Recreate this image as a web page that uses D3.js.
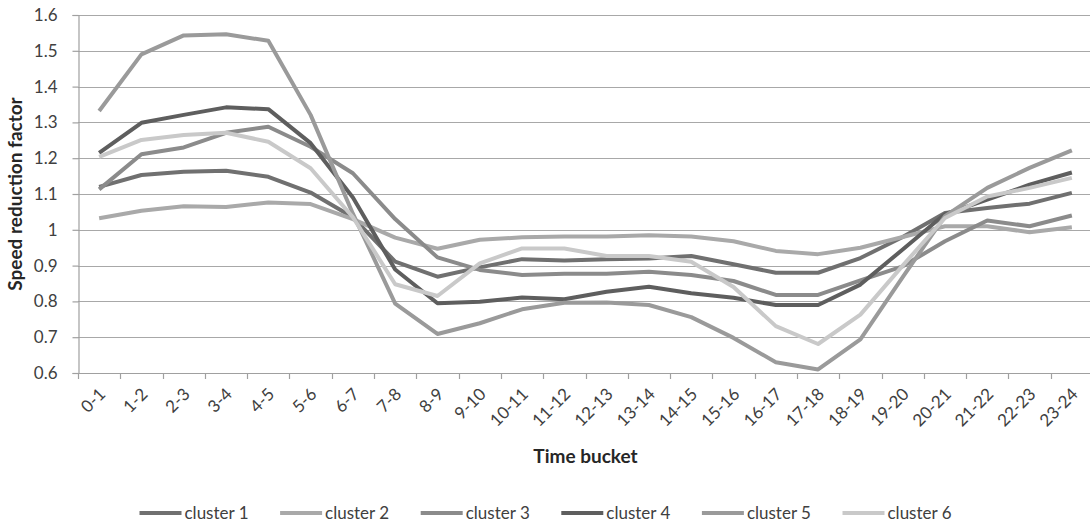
<!DOCTYPE html>
<html>
<head>
<meta charset="utf-8">
<script src="https://cdn.jsdelivr.net/npm/d3@7"></script>
<style>
  html, body { margin: 0; padding: 0; background: #fff; }
  svg { display: block; }
  text { font-family: Lato, "Open Sans", sans-serif; }
</style>
</head>
<body>
<svg id="chart" width="1090" height="524"></svg>
<script>
const categories = ["0-1","1-2","2-3","3-4","4-5","5-6","6-7","7-8","8-9","9-10","10-11","11-12",
  "12-13","13-14","14-15","15-16","16-17","17-18","18-19","19-20","20-21","21-22","22-23","23-24"];

const seriesNames = ["cluster 1","cluster 2","cluster 3","cluster 4","cluster 5","cluster 6"];

const cluster1 = [1.120,1.153,1.162,1.165,1.148,1.104,1.035,0.911,0.869,0.895,0.918,0.914,
                  0.918,0.920,0.927,0.904,0.880,0.880,0.921,0.980,1.047,1.061,1.073,1.103];
const cluster2 = [1.032,1.053,1.066,1.064,1.076,1.072,1.030,0.978,0.947,0.972,0.979,0.981,
                  0.981,0.985,0.981,0.968,0.941,0.932,0.950,0.980,1.010,1.010,0.993,1.007];
const cluster3 = [1.113,1.211,1.230,1.271,1.288,1.232,1.158,1.030,0.923,0.888,0.874,0.877,
                  0.877,0.883,0.874,0.857,0.818,0.818,0.859,0.898,0.968,1.026,1.010,1.040];
const cluster4 = [1.215,1.299,1.321,1.342,1.337,1.242,1.090,0.889,0.795,0.799,0.811,0.806,
                  0.827,0.841,0.823,0.810,0.790,0.790,0.847,0.945,1.044,1.084,1.126,1.160];
const cluster5 = [1.332,1.490,1.543,1.546,1.528,1.321,1.045,0.794,0.709,0.739,0.778,0.796,
                  0.797,0.790,0.756,0.698,0.630,0.610,0.694,0.868,1.038,1.117,1.173,1.222];
const cluster6 = [1.204,1.251,1.265,1.271,1.246,1.172,1.035,0.848,0.815,0.906,0.948,0.948,
                  0.927,0.927,0.911,0.840,0.731,0.681,0.763,0.900,1.033,1.093,1.117,1.145];

const seriesColors = ["#707070","#a9a9a9","#8b8b8b","#5e5e5e","#9a9a9a","#c9c9c9"];

const yTicks = [0.6,0.7,0.8,0.9,1.0,1.1,1.2,1.3,1.4,1.5,1.6];
const xTitle = "Time bucket";
const yTitle = "Speed reduction factor";

const seriesValues = [cluster1, cluster2, cluster3, cluster4, cluster5, cluster6];
const series = seriesNames.map((name, i) => ({
  name, color: seriesColors[i],
  values: categories.map((c, j) => ({ cat: c, v: seriesValues[i][j] }))
}));

const svg = d3.select("#chart");
const margin = { left: 78, top: 15, right: 1093, bottom: 373 };

const x = d3.scaleBand().domain(categories).range([margin.left, margin.right]).paddingInner(0).paddingOuter(0);
const y = d3.scaleLinear().domain([0.6, 1.6]).range([margin.bottom, margin.top]);

// gridlines
svg.append("g").selectAll("line").data(yTicks.filter(t => t > 0.6)).join("line")
  .attr("x1", margin.left).attr("x2", margin.right)
  .attr("y1", d => Math.round(y(d)) + 0.5).attr("y2", d => Math.round(y(d)) + 0.5)
  .attr("stroke", "#a8a8a8").attr("stroke-width", 1.2);

// y axis
const yAxis = d3.axisLeft(y).tickValues(yTicks).tickSize(6).tickPadding(15)
  .tickFormat(d => String(+d.toFixed(1)));
const gy = svg.append("g").attr("transform", `translate(${margin.left + 0.5},0)`).call(yAxis);
gy.select(".domain").attr("stroke", "#a0a0a0").attr("stroke-width", 1.2);
gy.selectAll(".tick line").attr("stroke", "#a0a0a0").attr("stroke-width", 1.2);
gy.selectAll(".tick text").attr("fill", "#404040").style("font-size", "17px").style("font-family", "Lato, sans-serif");

// x axis: ticks at category boundaries
const boundaries = categories.map(c => x(c)).concat([margin.right]);
const gx = svg.append("g");
gx.append("line").attr("x1", margin.left).attr("x2", margin.right)
  .attr("y1", margin.bottom + 0.5).attr("y2", margin.bottom + 0.5)
  .attr("stroke", "#a0a0a0").attr("stroke-width", 1.2);
gx.selectAll("line.tk").data(boundaries).join("line").attr("class", "tk")
  .attr("x1", d => Math.round(d) + 0.5).attr("x2", d => Math.round(d) + 0.5)
  .attr("y1", margin.bottom).attr("y2", margin.bottom + 6)
  .attr("stroke", "#a0a0a0").attr("stroke-width", 1.2);
gx.selectAll("text").data(categories).join("text")
  .attr("text-anchor", "end")
  .attr("dy", "0.35em")
  .attr("transform", d => `translate(${x(d) + x.bandwidth() / 2 + 3},${margin.bottom + 18}) rotate(-45)`)
  .attr("fill", "#404040").style("font-size", "17px")
  .text(d => d);

// lines
const line = d3.line().x(d => x(d.cat) + x.bandwidth() / 2).y(d => y(d.v));
svg.append("g").selectAll("path").data(series).join("path")
  .attr("d", d => line(d.values))
  .attr("fill", "none")
  .attr("stroke", d => d.color)
  .attr("stroke-width", 4)
  .attr("stroke-linejoin", "round");

// axis titles
svg.append("text")
  .attr("x", (margin.left + margin.right) / 2).attr("y", 463)
  .attr("text-anchor", "middle").attr("fill", "#262626")
  .style("font-size", "19px").style("font-weight", "bold")
  .text(xTitle);
svg.append("text")
  .attr("transform", `translate(22,${(margin.top + margin.bottom) / 2}) rotate(-90)`)
  .attr("text-anchor", "middle").attr("fill", "#262626")
  .style("font-size", "19px").style("font-weight", "bold")
  .text(yTitle);

// legend
const legend = svg.append("g");
const legX0 = 139.5, legStep = 140.6, legY = 513;
const items = legend.selectAll("g").data(series).join("g")
  .attr("transform", (d, i) => `translate(${legX0 + i * legStep},${legY})`);
items.append("line").attr("x1", 0).attr("x2", 42).attr("y1", 0).attr("y2", 0)
  .attr("stroke", d => d.color).attr("stroke-width", 4);
items.append("text").attr("x", 45).attr("dy", "0.35em")
  .attr("fill", "#404040").style("font-size", "17px")
  .text(d => d.name);
</script>
</body>
</html>
